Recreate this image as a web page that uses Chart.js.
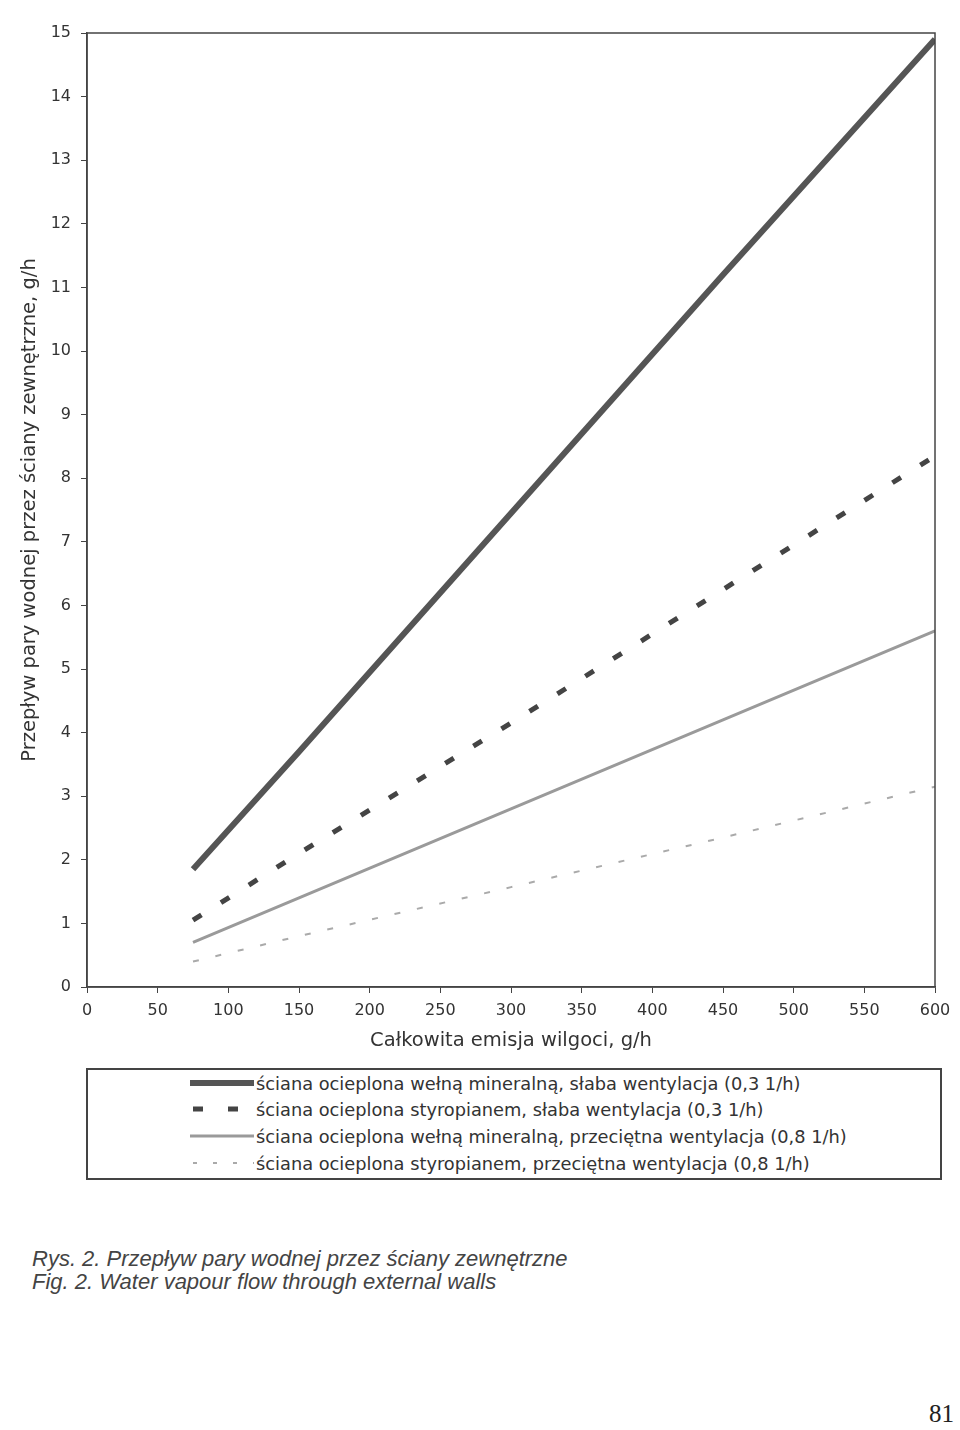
<!DOCTYPE html>
<html>
<head>
<meta charset="utf-8">
<script src="https://cdn.jsdelivr.net/npm/chart.js@4/dist/chart.umd.min.js"></script>
<style>
  body { margin: 0; background: #fff; font-family: "DejaVu Sans", sans-serif; color: #333; }
  #wrap { position: relative; width: 960px; height: 1430px; }
  #chartBox { position: absolute; left: 0; top: 0; width: 960px; height: 1060px; }
  #legend { position: absolute; left: 86px; top: 1068px; width: 852px; height: 108px;
            border: 2px solid #444; box-sizing: content-box; }
  .row { position: absolute; left: 102px; height: 26px; display: flex; align-items: center; font-size: 17.8px; color: #333; }
  .row svg { width: 64px; height: 14px; margin-right: 2px; }
  .caption { position: absolute; left: 32px; font-family: "Liberation Sans", Arial, sans-serif; font-style: italic; font-size: 22px; color: #444; }
  #page { position: absolute; left: 929px; top: 1400px; font-family: "Liberation Serif", serif; font-size: 25px; color: #222; }
</style>
</head>
<body>
<div id="wrap">
  <div id="chartBox"><canvas id="mainChart"></canvas></div>
  <div id="legend"></div>
  <div class="caption" style="top:1246px">Rys. 2. Przepływ pary wodnej przez ściany zewnętrzne</div>
  <div class="caption" style="top:1269px">Fig. 2. Water vapour flow through external walls</div>
  <div id="page">81</div>
</div>
<script>
  const emission = [75, 150, 300, 450, 600]
  const woolLow = [1.85, 3.7, 7.45, 11.2, 14.9]
  const styroLow = [1.05, 2.1, 4.15, 6.25, 8.35]
  const woolAvg = [0.7, 1.4, 2.8, 4.2, 5.6]
  const styroAvg = [0.4, 0.8, 1.57, 2.35, 3.15]
  const xTicks = [0, 50, 100, 150, 200, 250, 300, 350, 400, 450, 500, 550, 600]
  const yTicks = [0, 1, 2, 3, 4, 5, 6, 7, 8, 9, 10, 11, 12, 13, 14, 15]

  const labels = [
    'ściana ocieplona wełną mineralną, słaba wentylacja (0,3 1/h)',
    'ściana ocieplona styropianem, słaba wentylacja (0,3 1/h)',
    'ściana ocieplona wełną mineralną, przeciętna wentylacja (0,8 1/h)',
    'ściana ocieplona styropianem, przeciętna wentylacja (0,8 1/h)'
  ]

  const toPoints = (ys) => emission.map((x, i) => ({ x: x, y: ys[i] }))

  const series = [
    { data: woolLow, color: '#555', width: 6, dash: [] },
    { data: styroLow, color: '#444', width: 5, dash: [10, 23] },
    { data: woolAvg, color: '#9a9a9a', width: 3, dash: [] },
    { data: styroAvg, color: '#aaa', width: 2, dash: [6, 17] }
  ]

  // frame round the plot area (top and right sides too)
  const framePlugin = {
    id: 'frame',
    afterDraw(chart) {
      const a = chart.chartArea
      const ctx = chart.ctx
      ctx.save()
      ctx.strokeStyle = '#444'
      ctx.lineWidth = 1.5
      ctx.strokeRect(a.left, a.top, a.right - a.left, a.bottom - a.top)
      ctx.restore()
    }
  }

  const fam = '"DejaVu Sans", sans-serif'
  const tickFont = { family: fam, size: 16 }
  const titleFont = { family: fam, size: 19.5 }

  new Chart('mainChart', {
    type: 'line',
    data: {
      datasets: series.map((s, i) => ({
        label: labels[i],
        data: toPoints(s.data),
        borderColor: s.color,
        borderWidth: s.width,
        borderDash: s.dash,
        borderCapStyle: 'butt',
        pointRadius: 0,
        tension: 0,
        fill: false
      }))
    },
    options: {
      responsive: true,
      maintainAspectRatio: false,
      animation: false,
      layout: { padding: { top: 33, right: 25, left: 0, bottom: 0 } },
      plugins: { legend: { display: false }, tooltip: { enabled: false } },
      scales: {
        x: {
          type: 'linear',
          min: 0, max: 600,
          afterBuildTicks: (scale) => { scale.ticks = xTicks.map(v => ({ value: v })) },
          afterFit: (scale) => { scale.height = 73 },
          grid: { display: true, drawOnChartArea: false, tickLength: 6, color: '#444' },
          border: { color: '#444', width: 1.5 },
          ticks: { color: '#333', font: tickFont, padding: 8, maxRotation: 0 },
          title: { display: true, text: 'Całkowita emisja wilgoci, g/h', color: '#333',
                   font: titleFont, padding: { top: 0, bottom: 7 } }
        },
        y: {
          min: 0, max: 15,
          afterBuildTicks: (scale) => { scale.ticks = yTicks.map(v => ({ value: v })) },
          afterFit: (scale) => { scale.width = 87 },
          grid: { display: true, drawOnChartArea: false, tickLength: 6, color: '#444' },
          border: { color: '#444', width: 1.5 },
          ticks: { color: '#333', font: tickFont, padding: 10 },
          title: { display: true, text: 'Przepływ pary wodnej przez ściany zewnętrzne, g/h', color: '#333',
                   font: titleFont, padding: { top: 18, bottom: 0 } }
        }
      }
    },
    plugins: [framePlugin]
  })

  // legend box built from the same series styles
  const legend = document.getElementById('legend')
  const rowTops = [0, 26, 53, 80]
  const legendDash = ['none', '10,25', 'none', '4,16']
  series.forEach((s, i) => {
    const row = document.createElement('div')
    row.className = 'row'
    row.style.top = rowTops[i] + 'px'
    const x1 = (i === 1 || i === 3) ? 3 : 0
    row.innerHTML = '<svg viewBox="0 0 64 14"><line x1="' + x1 + '" y1="7" x2="64" y2="7" stroke="' + s.color +
      '" stroke-width="' + s.width + '" stroke-dasharray="' + legendDash[i] + '"/></svg>' +
      '<span>' + labels[i] + '</span>'
    legend.appendChild(row)
  })
</script>
</body>
</html>
